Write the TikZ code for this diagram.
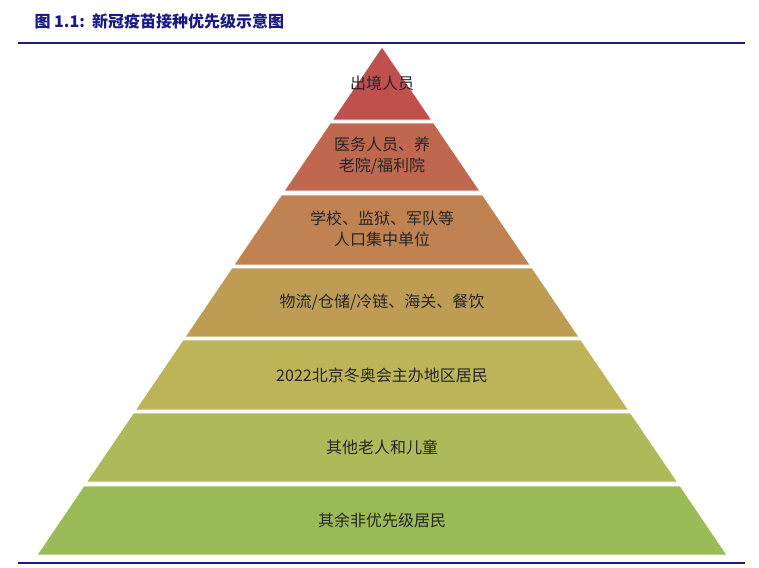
\documentclass[tikz,border=0pt]{standalone}
\usepackage{fontspec}
\newfontfamily\cjk{Noto Sans CJK SC}
\definecolor{navy}{HTML}{1A1A80}
\definecolor{c1}{HTML}{C0504D}
\definecolor{c2}{HTML}{C0674F}
\definecolor{c3}{HTML}{C08251}
\definecolor{c4}{HTML}{BF9C54}
\definecolor{c5}{HTML}{BDB458}
\definecolor{c6}{HTML}{AEBA59}
\definecolor{c7}{HTML}{9BBB59}
\tikzset{lbl/.style={font=\cjk\fontsize{16}{21}\selectfont, text=black!85, align=center},
  band/.style={draw=white,line width=0.6pt}}
\begin{document}
\begin{tikzpicture}[x=1pt,y=-1pt]
\useasboundingbox (0,0) rectangle (759,567);
\fill[white] (0,0) rectangle (759,567);
\node[anchor=west,text=navy,font=\cjk\bfseries\fontsize{16}{18}\selectfont] (title) at (31,21) {图 1.1:\ \ 新冠疫苗接种优先级示意图};
\draw[navy,line width=2.5pt] (18,43) -- (745,43);
\draw[navy,line width=2.5pt] (18,563) -- (745,563);
\fill[c1,band] (382,47) -- (431.6,120) -- (332.4,120) -- cycle;
\fill[c2,band] (330.4,123) -- (433.6,123) -- (479.8,191) -- (284.2,191) -- cycle;
\fill[c3,band] (281.5,195) -- (482.5,195) -- (530,265) -- (234,265) -- cycle;
\fill[c4,band] (231.9,268) -- (532.1,268) -- (578.9,337) -- (185.1,337) -- cycle;
\fill[c5,band] (183.1,340) -- (580.9,340) -- (628.5,410) -- (135.5,410) -- cycle;
\fill[c6,band] (133.5,413) -- (630.5,413) -- (677.4,482) -- (86.6,482) -- cycle;
\fill[c7,band] (83.9,486) -- (680.1,486) -- (726.9,555) -- (37.1,555) -- cycle;
\node[lbl] (l1) at (382,83) {出境人员};
\node[lbl] (l2) at (382,156) {医务人员、养\\老院/福利院};
\node[lbl] (l3) at (382,229) {学校、监狱、军队等\\人口集中单位};
\node[lbl] (l4) at (382,302) {物流/仓储/冷链、海关、餐饮};
\node[lbl] (l5) at (382,375) {2022北京冬奥会主办地区居民};
\node[lbl] (l6) at (382,447) {其他老人和儿童};
\node[lbl] (l7) at (382,520) {其余非优先级居民};
\end{tikzpicture}
\end{document}
